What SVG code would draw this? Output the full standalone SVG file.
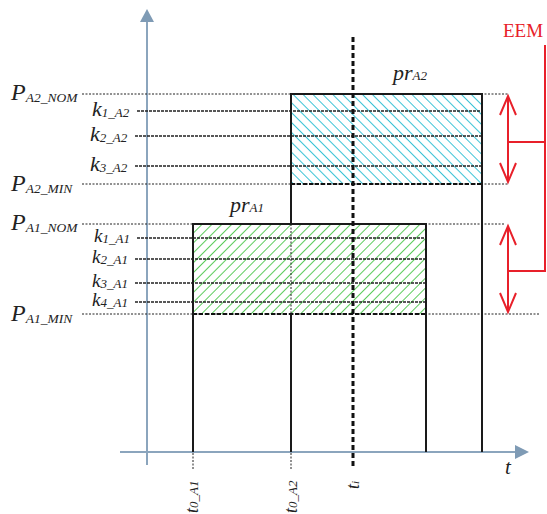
<svg xmlns="http://www.w3.org/2000/svg" width="547" height="514" viewBox="0 0 547 514">
<style>
.ax{stroke:#8ba5bd;stroke-width:2;fill:none}
.axh{fill:#7f9bb5}
.edge{stroke:#1a1a1a;stroke-width:2;fill:none}
.dot{stroke:#222;stroke-width:1;stroke-dasharray:2 1.5;fill:none}
.kl{stroke:#222;stroke-width:1.3;stroke-dasharray:3 1;fill:none}
.bot{stroke:#111;stroke-width:2;stroke-dasharray:4 2;fill:none}
.ti{stroke:#111;stroke-width:3;stroke-dasharray:5 3;fill:none}
.red{stroke:#e8202a;stroke-width:2;fill:none}
.lbl{font-family:"Liberation Serif",serif;font-style:italic;fill:#222}
.big{font-size:24px}
.kb{font-size:22px}
.kc{font-size:19px}
.sub{font-size:13.5px}
.ks{font-size:13px}
.eem{font-family:"Liberation Serif",serif;font-size:19px;fill:#e8202a}
</style>
<defs>
<pattern id="hatchC" patternUnits="userSpaceOnUse" width="7" height="7" patternTransform="rotate(-45)">
<line x1="0" y1="0" x2="0" y2="7" stroke="#3cc4d6" stroke-width="2"/>
</pattern>
<pattern id="hatchG" patternUnits="userSpaceOnUse" width="7" height="7" patternTransform="rotate(45)">
<line x1="0" y1="0" x2="0" y2="7" stroke="#5ccc5c" stroke-width="2"/>
</pattern>
</defs>

<g id="axes">
<line class="ax" x1="147" y1="465" x2="147" y2="20"/>
<polygon class="axh" points="147,9 140,22 154,22"/>
<line class="ax" x1="120" y1="452" x2="516" y2="452"/>
<polygon class="axh" points="529,452 515,445 515,459"/>
<text class="lbl" x="505" y="474" font-size="21">t</text>
</g>

<g id="boxA2">
<rect x="291" y="94" width="191" height="90" fill="url(#hatchC)"/>
</g>
<g id="boxA1">
<rect x="193" y="224" width="233" height="90" fill="url(#hatchG)"/>
</g>

<g id="connectors">
<line class="dot" x1="82" y1="94" x2="508" y2="94"/>
<line class="kl" x1="137" y1="111" x2="482" y2="111"/>
<line class="kl" x1="135" y1="136" x2="482" y2="136"/>
<line class="kl" x1="135" y1="166" x2="482" y2="166"/>
<line class="dot" x1="82" y1="184" x2="508" y2="184"/>
<line class="bot" x1="291" y1="184" x2="482" y2="184"/>
<line class="dot" x1="82" y1="224" x2="505" y2="224"/>
<line class="kl" x1="137" y1="238" x2="426" y2="238"/>
<line class="kl" x1="135" y1="259" x2="426" y2="259"/>
<line class="kl" x1="135" y1="283" x2="426" y2="283"/>
<line class="kl" x1="135" y1="302" x2="426" y2="302"/>
<line class="dot" x1="82" y1="314" x2="540" y2="314"/>
<line class="bot" x1="193" y1="314" x2="426" y2="314"/>
<polyline class="edge" points="291,224 291,94 482,94 482,452"/>
<line class="dot" x1="291" y1="224" x2="291" y2="314"/>
<line class="edge" x1="291" y1="314" x2="291" y2="452"/>
<polyline class="edge" points="193,452 193,224 426,224 426,452"/>
<line class="ti" x1="353" y1="37" x2="353" y2="468"/>
<line class="dot" x1="193" y1="453" x2="193" y2="469"/>
<line class="dot" x1="291" y1="453" x2="291" y2="469"/>
<line class="red" x1="508" y1="96" x2="508" y2="182"/>
<polyline class="red" points="500,115 508,96 516,115"/>
<polyline class="red" points="500,163 508,182 516,163"/>
<line class="red" x1="508" y1="226" x2="508" y2="312"/>
<polyline class="red" points="500,245 508,226 516,245"/>
<polyline class="red" points="500,293 508,312 516,293"/>
<polyline class="red" points="508,142 545,142"/>
<polyline class="red" points="545,45 545,271 508,271"/>
</g>

<g id="labels">
<text class="lbl" x="11" y="100"><tspan class="big">P</tspan><tspan class="sub" dy="2">A2_NOM</tspan></text>
<text class="lbl" x="92" y="116"><tspan class="kb">k</tspan><tspan class="ks" dy="1">1_A2</tspan></text>
<text class="lbl" x="90" y="141"><tspan class="kb">k</tspan><tspan class="ks" dy="1">2_A2</tspan></text>
<text class="lbl" x="90" y="171"><tspan class="kb">k</tspan><tspan class="ks" dy="1">3_A2</tspan></text>
<text class="lbl" x="11" y="191"><tspan class="big">P</tspan><tspan class="sub" dy="2">A2_MIN</tspan></text>
<text class="lbl" x="11" y="230"><tspan class="big">P</tspan><tspan class="sub" dy="2">A1_NOM</tspan></text>
<text class="lbl" x="94" y="242"><tspan class="kc">k</tspan><tspan class="ks" dy="1">1_A1</tspan></text>
<text class="lbl" x="92" y="263"><tspan class="kc">k</tspan><tspan class="ks" dy="1">2_A1</tspan></text>
<text class="lbl" x="92" y="287"><tspan class="kc">k</tspan><tspan class="ks" dy="1">3_A1</tspan></text>
<text class="lbl" x="92" y="306"><tspan class="kc">k</tspan><tspan class="ks" dy="1">4_A1</tspan></text>
<text class="lbl" x="11" y="321"><tspan class="big">P</tspan><tspan class="sub" dy="2">A1_MIN</tspan></text>
<text class="lbl" x="393" y="80"><tspan class="kb">pr</tspan><tspan class="ks">A2</tspan></text>
<text class="lbl" x="230" y="212"><tspan class="kb">pr</tspan><tspan class="ks">A1</tspan></text>
<text class="lbl" transform="translate(198,513) rotate(-90)"><tspan font-size="18">t</tspan><tspan font-size="13">0_A1</tspan></text>
<text class="lbl" transform="translate(297,513) rotate(-90)"><tspan font-size="18">t</tspan><tspan font-size="13">0_A2</tspan></text>
<text class="lbl" transform="translate(359,489) rotate(-90)"><tspan font-size="18">t</tspan><tspan font-size="11">i</tspan></text>
<text class="eem" x="503" y="37">EEM</text>
</g>
</svg>
